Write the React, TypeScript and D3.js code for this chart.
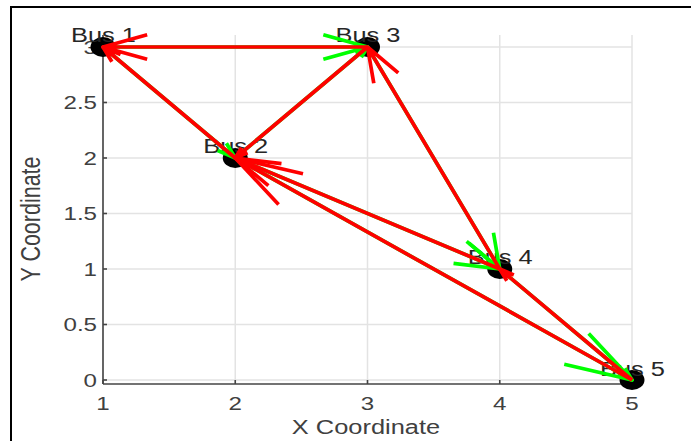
import React from 'react'
import * as d3 from 'd3'

// bus positions
const busNames = ['Bus 1', 'Bus 2', 'Bus 3', 'Bus 4', 'Bus 5']
const busX = [1, 2, 3, 4, 5]
const busY = [3, 2, 3, 1, 0]

// line flows: red arrow goes fromBus -> toBus, green one goes the other way
const fromBus = [3, 2, 3, 4, 4, 5, 5]
const toBus = [1, 1, 2, 3, 2, 2, 4]
const headSize = [0.167, 0.1, 0.07, 0.14, 0.15, 0.14, 0.08]

const xTicks = [1, 2, 3, 4, 5]
const yTicks = [0, 0.5, 1, 1.5, 2, 2.5, 3]

const W = 691
const H = 441
const STRETCH = 1.27 // the picture is wider than it is tall
const FONT = '"Liberation Sans", Arial, Helvetica, sans-serif'
const BETA = 0.33

const x = d3.scaleLinear().domain([1, 5]).range([103, 632])
const y = d3.scaleLinear().domain([-0.036, 3.108]).range([384, 35])

// quiver-style arrow: shaft plus two barbs, computed in data units
function arrowPath(x0: number, y0: number, x1: number, y1: number, a: number) {
  const u = x1 - x0
  const v = y1 - y0
  const b1x = x1 - a * (u + BETA * v)
  const b1y = y1 - a * (v - BETA * u)
  const b2x = x1 - a * (u - BETA * v)
  const b2y = y1 - a * (v + BETA * u)
  const p = d3.path()
  p.moveTo(x(x0), y(y0))
  p.lineTo(x(x1), y(y1))
  p.moveTo(x(b1x), y(b1y))
  p.lineTo(x(x1), y(y1))
  p.lineTo(x(b2x), y(b2y))
  return p.toString()
}

export default function App() {
  const [x0, x1] = x.range()
  const [yb, yt] = y.range()
  const lines = fromBus.map((f, i) => ({ f: f - 1, t: toBus[i] - 1, a: headSize[i] }))

  return (
    <svg
      width={W}
      height={H}
      style={{ position: 'absolute', left: 0, top: 0, background: '#fff' }}
      fontFamily={FONT}
    >
      {/* figure frame */}
      <rect x={11} y={7} width={W + 20} height={H + 20} fill="#fff" stroke="#000" strokeWidth={2} />

      {/* grid */}
      <g stroke="#e3e3e3" strokeWidth={1.5}>
        {xTicks.map((t) => (
          <line key={'gx' + t} x1={x(t)} x2={x(t)} y1={yt} y2={yb} />
        ))}
        {yTicks.map((t) => (
          <line key={'gy' + t} x1={x0} x2={x1} y1={y(t)} y2={y(t)} />
        ))}
      </g>

      {/* axes */}
      <g stroke="#444" strokeWidth={1.6}>
        <line x1={x0} x2={x0} y1={yt} y2={yb} />
        <line x1={x0} x2={x1} y1={yb} y2={yb} />
        {xTicks.map((t) => (
          <line key={'tx' + t} x1={x(t)} x2={x(t)} y1={yb} y2={yb - 4} />
        ))}
        {yTicks.map((t) => (
          <line key={'ty' + t} x1={x0} x2={x0 + 4} y1={y(t)} y2={y(t)} />
        ))}
      </g>

      <g fill="#404040" fontSize={19}>
        {yTicks.map((t) => (
          <text
            key={'ly' + t}
            transform={`translate(97,${y(t)}) scale(${STRETCH},1)`}
            textAnchor="end"
            dy="0.36em"
          >
            {String(t)}
          </text>
        ))}
        {xTicks.map((t) => (
          <text
            key={'lx' + t}
            transform={`translate(${x(t)},410) scale(${STRETCH},1)`}
            textAnchor="middle"
          >
            {String(t)}
          </text>
        ))}
      </g>

      <text
        transform={`translate(366,434) scale(${STRETCH},1)`}
        textAnchor="middle"
        fontSize={20}
        fill="#404040"
      >
        X Coordinate
      </text>
      <text
        transform={`translate(40,219) scale(${STRETCH},1) rotate(-90)`}
        textAnchor="middle"
        fontSize={21.5}
        fill="#404040"
      >
        Y Coordinate
      </text>

      {/* buses */}
      {busX.map((bx, i) => (
        <ellipse key={'b' + i} cx={x(bx)} cy={y(busY[i])} rx={12.5} ry={10} fill="#000" />
      ))}
      {busNames.map((n, i) => (
        <text
          key={'n' + i}
          transform={`translate(${x(busX[i]) - 32},${y(busY[i]) - 4.5}) scale(${STRETCH},1)`}
          fontSize={20}
          fill="#262626"
        >
          {n}
        </text>
      ))}

      {/* arrows */}
      <g fill="none" strokeWidth={3.7} strokeLinejoin="round">
        {lines.map((l, i) => (
          <path
            key={'g' + i}
            d={arrowPath(busX[l.t], busY[l.t], busX[l.f], busY[l.f], l.a)}
            stroke="#00ff00"
          />
        ))}
        {lines.map((l, i) => (
          <path
            key={'r' + i}
            d={arrowPath(busX[l.f], busY[l.f], busX[l.t], busY[l.t], l.a)}
            stroke="#ff0000"
          />
        ))}
      </g>
    </svg>
  )
}
